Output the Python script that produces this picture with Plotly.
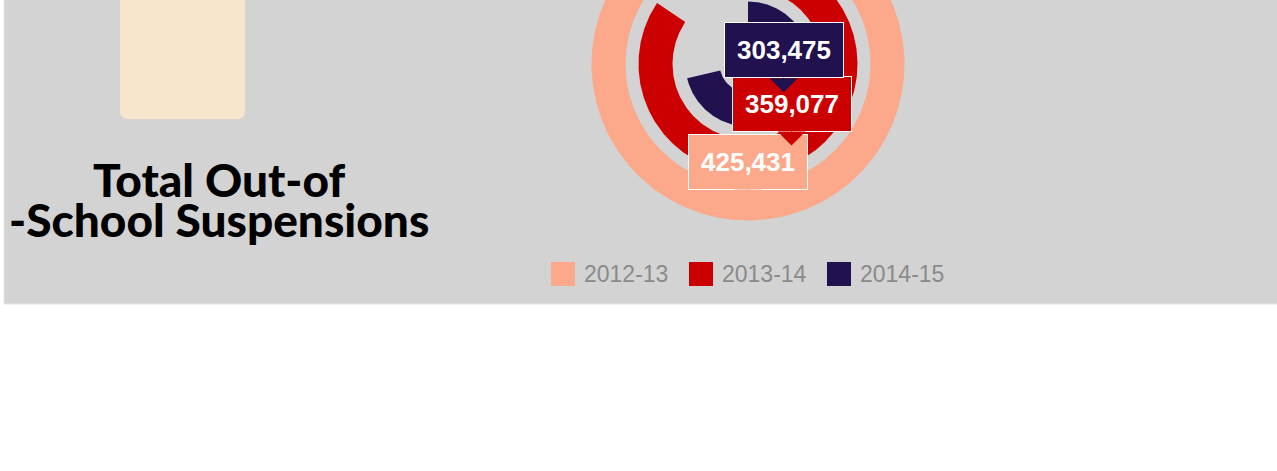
import numpy as np
import plotly.graph_objects as go

# ---- data ----
years = ["2012-13", "2013-14", "2014-15"]
suspensions = [425431, 359077, 303475]
colors = ["#FBA98A", "#CC0000", "#21124F"]
title_lines = ["Total Out-of", "-School Suspensions"]

# ---- layout constants (pixels) ----
W, H = 1277, 471
CX, CY = 748.0, 64.0          # ring centre, px from top-left
RING_W = 34.0
RING_STEP = 47.0
OUTER_INNER_R = 122.5         # inner radius of the outermost ring


def dx(px):
    return px - CX


def dy(py):
    return CY - py


fig = go.Figure()
vmax = max(suspensions)

callouts = []
for i, (yr, v, c) in enumerate(zip(years, suspensions, colors)):
    r_in = OUTER_INNER_R - i * RING_STEP
    r_out = r_in + RING_W
    span = v / vmax * 2 * np.pi
    t = np.linspace(0, span, 500)
    xs = np.concatenate([r_out * np.sin(t), r_in * np.sin(t[::-1])])
    ys = np.concatenate([r_out * np.cos(t), r_in * np.cos(t[::-1])])
    fig.add_trace(go.Scatter(
        x=xs, y=ys, fill="toself", fillcolor=c, mode="lines",
        line=dict(width=0, color=c), name=yr, hoverinfo="skip", showlegend=False))
    r_mid = r_in + RING_W / 2
    tm = span / 2
    callouts.append((r_mid * np.sin(tm), r_mid * np.cos(tm), v, c))

# callout labels (drawn in series order, later on top)
for (px, py, v, c) in callouts:
    fig.add_annotation(
        x=px, y=py, xref="x", yref="y", text=f"{v:,}",
        showarrow=True, arrowhead=1, arrowsize=4.67, arrowwidth=1, arrowcolor=c,
        ax=0, ay=-42, standoff=0,
        bgcolor=c, bordercolor="white", borderwidth=1, borderpad=0,
        width=118, height=54,
        font=dict(family="Liberation Sans, Arial, sans-serif", size=26, color="white", weight="bold"))

shapes = []
# grey panel
shapes.append(dict(type="rect", xref="x", yref="y", x0=dx(4), x1=dx(1278), y0=dy(-2), y1=dy(304),
                   fillcolor="#D3D3D3", line=dict(color="#E6E6E6", width=1), layer="below"))
# cream block (cut at top)
x0, x1, yb, rr = dx(120), dx(245), dy(119), 8
path = (f"M {x0},{dy(-10)} L {x0},{yb + rr} Q {x0},{yb} {x0 + rr},{yb} "
        f"L {x1 - rr},{yb} Q {x1},{yb} {x1},{yb + rr} L {x1},{dy(-10)} Z")
shapes.append(dict(type="path", xref="x", yref="y", path=path,
                   fillcolor="#F8E6CC", line=dict(width=0), layer="below"))

# manual legend
LEG_X0, LEG_STEP, LEG_Y, SW = 551, 138, 274, 24
for i, (yr, c) in enumerate(zip(years, colors)):
    lx = LEG_X0 + i * LEG_STEP
    shapes.append(dict(type="rect", xref="x", yref="y", x0=dx(lx), x1=dx(lx + SW),
                       y0=dy(LEG_Y - SW / 2), y1=dy(LEG_Y + SW / 2),
                       fillcolor=c, line=dict(width=0), layer="above"))
    fig.add_annotation(x=dx(lx + SW + 7), y=dy(LEG_Y), xref="x", yref="y", text=yr,
                       showarrow=False, xanchor="left", yanchor="middle",
                       font=dict(family="Liberation Sans, Arial, sans-serif", size=23, color="#8A8A8A"))

# title (two lines)
for j, (line, yc) in enumerate(zip(title_lines, [179, 219])):
    fig.add_annotation(x=dx(219), y=dy(yc), xref="x", yref="y", text=line, showarrow=False,
                       xanchor="center", yanchor="middle",
                       font=dict(family="Lato, sans-serif", size=46, color="black", weight=900))

fig.update_layout(
    width=W, height=H, margin=dict(l=0, r=0, t=0, b=0),
    paper_bgcolor="white", plot_bgcolor="white",
    xaxis=dict(range=[dx(0), dx(W)], visible=False, fixedrange=True),
    yaxis=dict(range=[dy(H), dy(0)], visible=False, fixedrange=True),
    shapes=shapes, showlegend=False,
)

fig.write_html("out.html", config={"displayModeBar": False},
               post_script="document.body.style.margin='0';")
